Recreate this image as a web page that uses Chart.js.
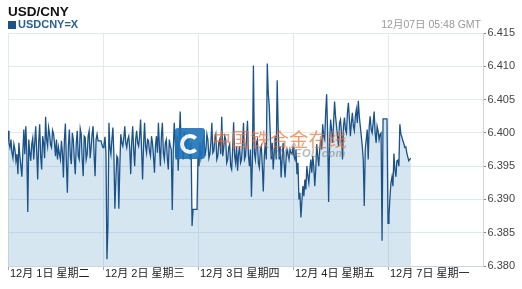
<!DOCTYPE html>
<html><head><meta charset="utf-8">
<script src="https://cdn.jsdelivr.net/npm/chart.js@4.4.0/dist/chart.umd.min.js"></script>
<style>
html,body{margin:0;padding:0;background:#fff;}
#wrap{position:relative;width:522px;height:289px;overflow:hidden;font-family:"Liberation Sans",Arial,"Noto Sans CJK SC",sans-serif;}
canvas{position:absolute;left:0;top:0;}
.t{position:absolute;white-space:nowrap;line-height:1;}
</style></head><body>
<div id="wrap">
<canvas id="c" width="522" height="289"></canvas>
<div class="t" id="title" style="left:8px;top:5px;font-size:13.5px;font-weight:bold;color:#111;"></div>
<div style="position:absolute;left:8px;top:21px;width:7.5px;height:7.5px;background:#1b5288;"></div>
<div class="t" id="series" style="left:18px;top:19.3px;font-size:11px;font-weight:bold;color:#2a5f96;"></div>
<div class="t" id="updated" style="right:41px;top:18.8px;font-size:10.5px;color:#9a9a9a;"></div>
<div id="logo" style="position:absolute;left:175px;top:128px;width:30px;height:31px;background:#1f73b7;border-radius:3px;opacity:0.9;">
  <div style="position:absolute;left:5px;top:6px;width:12px;height:12px;border:4px solid #fff;border-right-color:transparent;border-radius:50%;"></div>
  <div style="position:absolute;left:12px;top:13px;width:7px;height:7px;background:#1f73b7;border-radius:50%;"></div>
</div>
<div class="t" id="wm" style="left:212px;top:129px;font-size:19px;font-family:'Noto Sans CJK SC',sans-serif;color:rgba(238,115,55,0.72);letter-spacing:0.3px;"></div>
<div class="t" id="wm2" style="left:270px;top:148px;font-size:11px;font-weight:bold;font-style:italic;color:rgba(120,125,135,0.55);letter-spacing:0.5px;"></div>
</div>
<script>
const titleText = "USD/CNY";
const seriesName = "USDCNY=X";
const updatedText = "12月07日 05:48 GMT";
const watermarkText = "中国铁合金在线";
const watermarkSite = "CNFEOL.com";

const dayLabels = ["12月 1日 星期二","12月 2日 星期三","12月 3日 星期四","12月 4日 星期五","12月 7日 星期一"];
const yTicks = [6.380, 6.385, 6.390, 6.395, 6.400, 6.405, 6.410, 6.415];

const dec1 = [6.4003, 6.3985, 6.3978, 6.3990, 6.3970, 6.3962, 6.3983, 6.3975, 6.3958, 6.3968, 6.3938, 6.3985, 6.3965, 6.3950, 6.3934, 6.3972, 6.4005, 6.3968, 6.4010, 6.3972, 6.3881, 6.3990, 6.3970, 6.3958, 6.3983, 6.3992, 6.3960, 6.3985, 6.4010, 6.3972, 6.3930, 6.3985, 6.4013, 6.3965, 6.3945, 6.3995, 6.3985, 6.3962, 6.4024, 6.3990, 6.3980, 6.4008, 6.3998, 6.3982, 6.3978, 6.4004, 6.3999, 6.3985, 6.3965, 6.3990, 6.3960, 6.3978, 6.3968, 6.3960, 6.3988, 6.3970, 6.3933, 6.3990, 6.4014, 6.3955, 6.3910, 6.3980, 6.4005, 6.3965, 6.3953, 6.4000, 6.3990, 6.3960, 6.3938, 6.3985, 6.4003, 6.3965, 6.3960, 6.4006, 6.3998, 6.3960, 6.3935, 6.3995, 6.3993, 6.3960, 6.3968, 6.3995, 6.4003, 6.3962, 6.3978, 6.3998, 6.4010, 6.3968, 6.3935, 6.3990, 6.3998, 6.3988, 6.3988, 6.3988, 6.3988, 6.3982];
const dec2 = [6.3978, 6.3982, 6.3994, 6.3970, 6.3810, 6.3860, 6.4015, 6.3978, 6.3968, 6.3990, 6.4008, 6.3968, 6.3886, 6.3930, 6.3965, 6.3962, 6.3886, 6.3950, 6.3998, 6.3985, 6.3980, 6.3992, 6.4010, 6.3985, 6.3978, 6.3990, 6.3995, 6.3978, 6.3938, 6.3985, 6.4010, 6.3975, 6.3950, 6.3990, 6.4003, 6.3985, 6.3980, 6.3995, 6.4020, 6.3975, 6.3930, 6.3982, 6.4015, 6.3980, 6.3970, 6.3990, 6.3988, 6.3972, 6.3965, 6.3995, 6.3985, 6.3965, 6.3940, 6.3980, 6.3995, 6.3970, 6.4015, 6.3980, 6.3950, 6.3995, 6.4015, 6.3970, 6.3960, 6.3985, 6.3990, 6.3962, 6.3945, 6.3990, 6.3980, 6.3975, 6.3884, 6.3975, 6.4015, 6.3985, 6.3960, 6.3995, 6.3943, 6.3985, 6.4032, 6.3980, 6.3985, 6.3960, 6.4003, 6.3985, 6.3970, 6.3998, 6.3993, 6.3975, 6.3960, 6.3985, 6.3860, 6.3885, 6.3885, 6.3885, 6.3885, 6.3885];
const dec3 = [6.3965, 6.3950, 6.3985, 6.3962, 6.3970, 6.3988, 6.3995, 6.3965, 6.3975, 6.3998, 6.3990, 6.3962, 6.3968, 6.3985, 6.4015, 6.3970, 6.3973, 6.3992, 6.3998, 6.3960, 6.3965, 6.3985, 6.3990, 6.3968, 6.4024, 6.3965, 6.3978, 6.3995, 6.3990, 6.3955, 6.3960, 6.3978, 6.3983, 6.3950, 6.3945, 6.3975, 6.4016, 6.3965, 6.3955, 6.3980, 6.3943, 6.3968, 6.3980, 6.3955, 6.3960, 6.3985, 6.4015, 6.3960, 6.3965, 6.3990, 6.4018, 6.3965, 6.3950, 6.3975, 6.3904, 6.3960, 6.4101, 6.3970, 6.3960, 6.3985, 6.3990, 6.3955, 6.3948, 6.3975, 6.3980, 6.3950, 6.3912, 6.3965, 6.3985, 6.3960, 6.4104, 6.4060, 6.4040, 6.4000, 6.3960, 6.3985, 6.3945, 6.3970, 6.3995, 6.3960, 6.4079, 6.4010, 6.3960, 6.3980, 6.3933, 6.3960, 6.3985, 6.3955, 6.3933, 6.3962, 6.3975, 6.3968, 6.3960, 6.3975, 6.3970, 6.3968];
const dec4 = [6.3978, 6.3965, 6.3960, 6.3975, 6.3938, 6.3955, 6.3900, 6.3910, 6.3873, 6.3898, 6.3920, 6.3905, 6.3930, 6.3915, 6.3950, 6.3935, 6.3925, 6.3945, 6.3960, 6.3940, 6.3965, 6.3950, 6.3920, 6.3945, 6.3983, 6.3965, 6.3950, 6.3975, 6.3990, 6.3975, 6.4013, 6.3995, 6.3990, 6.4030, 6.4058, 6.4000, 6.3896, 6.3985, 6.4020, 6.4005, 6.3985, 6.4015, 6.4047, 6.4025, 6.4010, 6.3995, 6.3980, 6.4015, 6.4020, 6.4000, 6.3960, 6.4010, 6.4023, 6.4005, 6.4000, 6.4030, 6.4045, 6.4020, 6.3995, 6.4015, 6.4030, 6.4010, 6.4003, 6.4025, 6.4035, 6.4015, 6.4048, 6.4025, 6.4010, 6.3995, 6.3980, 6.3960, 6.3890, 6.3975, 6.3990, 6.4005, 6.3960, 6.4010, 6.4025, 6.4005, 6.4000, 6.4015, 6.4032, 6.4000, 6.3985, 6.4010, 6.4003, 6.3990, 6.3998, 6.4000, 6.3838, 6.4021, 6.4021, 6.4021, 6.4021, 6.4021];
const dec7 = [6.3864, 6.3875, 6.3904, 6.3925, 6.3934, 6.3920, 6.3969, 6.3945, 6.3934, 6.3958, 6.3959, 6.3950, 6.4013, 6.3998, 6.3994, 6.3988, 6.3984, 6.3978, 6.3979, 6.3970, 6.3964, 6.3958, 6.3960, 6.3962];
const stepHours = 0.25;
const lastHour = 5.8;
const lastValue = 6.3962;

document.getElementById('title').textContent = titleText;
document.getElementById('series').textContent = seriesName;
document.getElementById('updated').textContent = updatedText;
document.getElementById('wm').textContent = watermarkText;
document.getElementById('wm2').textContent = watermarkSite;

const days = [dec1, dec2, dec3, dec4, dec7];
const points = [];
days.forEach((arr, d) => arr.forEach((v, k) => points.push({x: d + k * stepHours / 24, y: v})));
points.push({x: 4 + lastHour / 24, y: lastValue});

const fontFam = '"Liberation Sans", Arial, "Noto Sans CJK SC", sans-serif';

new Chart(document.getElementById('c'), {
  type: 'line',
  data: { datasets: [{
    label: seriesName,
    data: points,
    borderColor: '#1b5288',
    borderWidth: 1.3,
    backgroundColor: 'rgba(70,140,190,0.22)',
    fill: 'start',
    pointRadius: 0,
    tension: 0
  }]},
  options: {
    responsive: false,
    animation: false,
    events: [],
    layout: { padding: { left: 8, top: 33, right: 0, bottom: 0 } },
    plugins: { legend: { display: false }, tooltip: { enabled: false }, title: { display: false } },
    scales: {
      x: {
        type: 'linear', min: 0, max: 5,
        afterBuildTicks: s => { s.ticks = dayLabels.map((_, i) => ({ value: i })); },
        afterFit: s => { s.height = 23; },
        grid: { color: '#e3e8ef', tickColor: '#9aa8b8', tickLength: 4, drawTicks: true },
        border: { display: true, color: '#cdd4dc' },
        ticks: {
          align: 'start', labelOffset: 2, padding: -3, autoSkip: false, maxRotation: 0, minRotation: 0,
          color: '#222', font: { family: fontFam, size: 11 },
          callback: (v, i) => dayLabels[i]
        }
      },
      y: {
        type: 'linear', position: 'right', min: 6.380, max: 6.415,
        afterBuildTicks: s => { s.ticks = yTicks.map(v => ({ value: v })); },
        afterFit: s => { s.width = 39; },
        grid: { color: '#e3e8ef', tickColor: '#888', tickLength: 3, drawTicks: true },
        border: { display: true, color: '#cdd4dc' },
        ticks: { padding: 1.5, color: '#444', font: { family: fontFam, size: 11 }, callback: v => Number(v).toFixed(3) }
      }
    }
  }
});
</script>
</body></html>
